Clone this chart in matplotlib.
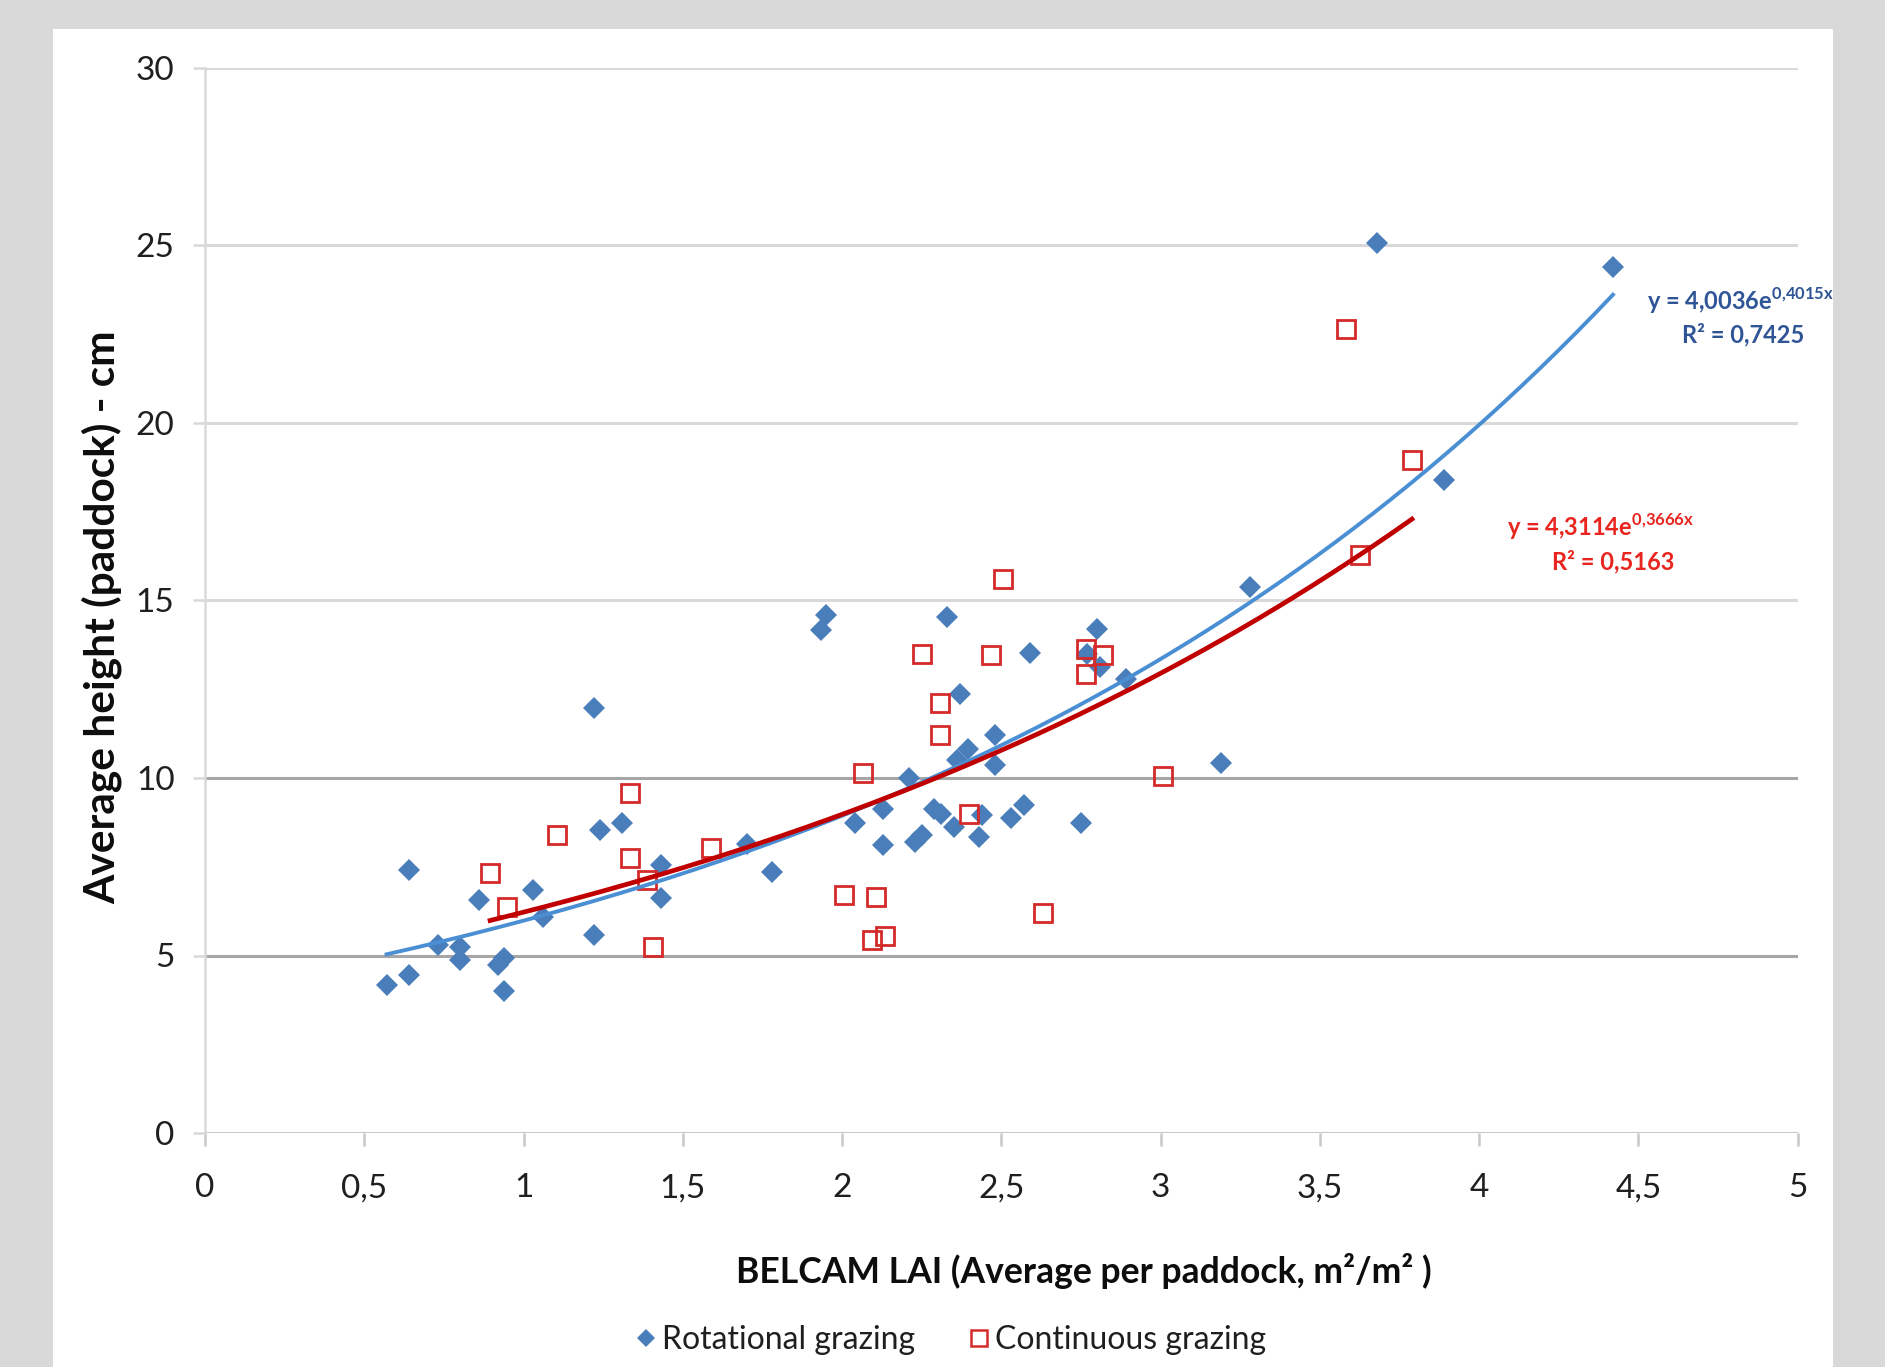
import numpy as np
import matplotlib
matplotlib.use("Agg")
import matplotlib.pyplot as plt
from matplotlib.lines import Line2D
from matplotlib.patches import Rectangle

plt.rcParams['font.family'] = ['Lato', 'DejaVu Sans']
plt.rcParams['mathtext.fontset'] = 'custom'
plt.rcParams['mathtext.rm'] = 'Lato'
plt.rcParams['mathtext.bf'] = 'Lato:bold'

# ---- data ----
rot_x = [0.57, 0.64, 0.64, 0.73, 0.80, 0.80, 0.86, 0.92, 0.94, 0.94,
         1.03, 1.06, 1.22, 1.22, 1.24, 1.31, 1.43, 1.43, 1.70, 1.78,
         1.935, 1.95, 2.04, 2.13, 2.13, 2.21, 2.23, 2.25, 2.29, 2.31,
         2.33, 2.35, 2.37, 2.36, 2.395, 2.43, 2.44, 2.48, 2.48, 2.53,
         2.57, 2.59, 2.75, 2.77, 2.80, 2.81, 2.89, 3.19, 3.28, 3.68,
         3.89, 4.42]
rot_y = [4.17, 4.45, 7.41, 5.30, 5.25, 4.88, 6.56, 4.73, 4.92, 3.99,
         6.84, 6.09, 11.97, 5.58, 8.54, 8.74, 6.61, 7.55, 8.13, 7.35,
         14.16, 14.58, 8.72, 9.14, 8.11, 9.99, 8.2, 8.39, 9.14, 9.0,
         14.53, 8.63, 12.38, 10.5, 10.83, 8.35, 8.95, 11.2, 10.36, 8.86,
         9.23, 13.53, 8.72, 13.5, 14.2, 13.13, 12.8, 10.41, 15.37, 25.08,
         18.39, 24.4]

cont_x = [0.895, 0.947, 1.106, 1.333, 1.334, 1.387, 1.407, 1.588, 2.006,
          2.066, 2.095, 2.108, 2.136, 2.251, 2.307, 2.307, 2.40, 2.467,
          2.505, 2.632, 2.767, 2.767, 2.819, 3.007, 3.582, 3.626, 3.789]
cont_y = [7.31, 6.38, 8.40, 9.58, 7.74, 7.13, 5.25, 8.02, 6.70,
          10.13, 5.45, 6.66, 5.56, 13.5, 12.12, 11.2, 9.0, 13.47,
          15.61, 6.19, 13.64, 12.94, 13.47, 10.05, 22.65, 16.28, 18.96]

# exponential trendlines (Excel fit): y = a * exp(b x)
rot_a, rot_b = 4.0036, 0.4015
cont_a, cont_b = 4.3114, 0.3666

x_ticks = [0, 0.5, 1, 1.5, 2, 2.5, 3, 3.5, 4, 4.5, 5]
x_ticklabels = ['0', '0,5', '1', '1,5', '2', '2,5', '3', '3,5', '4', '4,5', '5']
y_ticks = [0, 5, 10, 15, 20, 25, 30]

W, H = 1885, 1367
fig = plt.figure(figsize=(W / 100, H / 100), dpi=100, facecolor='#d9d9d9')
panel = Rectangle((53 / W, 0), (1833 - 53) / W, 1 - 29 / H,
                  transform=fig.transFigure, facecolor='white',
                  edgecolor='none', zorder=-10)
fig.add_artist(panel)

ax = fig.add_axes([205 / W, 1 - 1133 / H, (1797.7 - 205) / W, (1133 - 68) / H])
ax.set_zorder(5)
ax.set_facecolor('none')
ax.set_xlim(0, 5)
ax.set_ylim(0, 30)

# gridlines
for yv in y_ticks[1:]:
    col = '#a6a6a6' if yv in (5, 10) else '#d9d9d9'
    ax.axhline(yv, color=col, lw=2.2, zorder=1)
ax.axhline(0, color='#c8c8c8', lw=2.2, zorder=1)

for s in ['top', 'right', 'bottom']:
    ax.spines[s].set_visible(False)
ax.spines['left'].set_color('#d9d9d9')
ax.spines['left'].set_linewidth(1.8)

ax.set_xticks(x_ticks)
ax.set_xticklabels(x_ticklabels)
ax.set_yticks(y_ticks)
ax.tick_params(axis='x', length=9, width=1.8, color='#c8c8c8', pad=20,
               labelsize=24, labelcolor='#1f1f1f')
ax.tick_params(axis='y', length=9, width=1.8, color='#d9d9d9', pad=13,
               labelsize=24, labelcolor='#1f1f1f')

# scatter
ax.plot(rot_x, rot_y, linestyle='none', marker='D', markersize=11.5,
        color='#4a7ebb', markeredgewidth=0, zorder=3)
ax.plot(cont_x, cont_y, linestyle='none', marker='s', markersize=13,
        markerfacecolor='none', markeredgecolor='#d42a2a',
        markeredgewidth=2.0, zorder=3)

# trendlines
xr = np.linspace(min(rot_x), max(rot_x), 200)
ax.plot(xr, rot_a * np.exp(rot_b * xr), color='#4a8fd4', lw=2.8, zorder=4)
xc = np.linspace(min(cont_x), max(cont_x), 200)
ax.plot(xc, cont_a * np.exp(cont_b * xc), color='#c00000', lw=3.4, zorder=5)

# equations
ax.text(4.82, 23.45, r'y = 4,0036e$^{\mathbf{0{,}4015x}}$', color='#2f5597',
        fontsize=17, fontweight='bold', ha='center', va='center', clip_on=False)
ax.text(4.83, 22.48, 'R² = 0,7425', color='#2f5597', fontsize=17,
        fontweight='bold', ha='center', va='center', clip_on=False)
ax.text(4.38, 17.07, r'y = 4,3114e$^{\mathbf{0{,}3666x}}$', color='#e8251f',
        fontsize=17, fontweight='bold', ha='center', va='center', clip_on=False)
ax.text(4.42, 16.1, 'R² = 0,5163', color='#e8251f', fontsize=17,
        fontweight='bold', ha='center', va='center', clip_on=False)

# axis labels
fig.text(1084 / W, 1 - 1271 / H, 'BELCAM LAI (Average per paddock, m²/m² )',
         ha='center', va='center', fontsize=25.6, fontweight='bold', color='#0d0d0d')
fig.text(102 / W, 1 - 617 / H, 'Average height (paddock) - cm', rotation=90,
         ha='center', va='center', fontsize=30.5, fontweight='bold', color='#0d0d0d')

# legend
handles = [
    Line2D([], [], linestyle='none', marker='D', markersize=9, color='#4a7ebb',
           markeredgewidth=0, label='Rotational grazing'),
    Line2D([], [], linestyle='none', marker='s', markersize=12,
           markerfacecolor='none', markeredgecolor='#d42a2a',
           markeredgewidth=1.8, label='Continuous grazing'),
]
fig.legend(handles=handles, loc='center', bbox_to_anchor=(950 / W, 1 - 1340 / H),
           ncol=2, frameon=False, fontsize=23, handletextpad=0.1,
           columnspacing=1.6, handlelength=0.8, labelcolor='#1f1f1f')

fig.savefig('out.png', dpi=100, facecolor=fig.get_facecolor())
